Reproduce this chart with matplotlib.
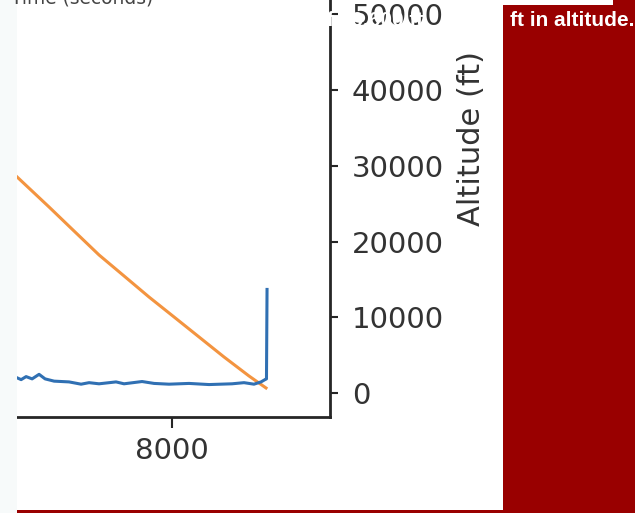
import matplotlib.pyplot as plt
from matplotlib.patches import Rectangle
from matplotlib.ticker import MultipleLocator

# flight trace, right part of the chart (time in s, altitude in ft)
blue_time = [6200, 6340, 6394, 6447, 6511, 6585, 6649, 6745, 6904, 7032, 7117, 7223, 7404,
             7489, 7681, 7809, 7968, 8181, 8394, 8638, 8766, 8872, 8947, 8989, 9005, 9011]
blue_alt = [1900, 2100, 1800, 2200, 1900, 2500, 1900, 1600, 1500, 1200, 1400, 1250, 1500,
            1250, 1550, 1300, 1200, 1300, 1150, 1250, 1400, 1200, 1500, 1800, 1900, 13700]

orange_time = [6000, 6351, 6691, 6957, 7223, 7489, 7755, 8021, 8287, 8553, 8819, 9000]
orange_alt = [32600, 28540, 24580, 21410, 18250, 15480, 12700, 10070, 7430, 4790, 2280, 700]

x_ticks = [8000]
y_label = "Altitude (ft)"
x_label_above = "Time (seconds)"

W, H = 635, 513
RED = "#990000"


def px_box(x0, y0, x1, y1):
    """pixel box (top-left origin) -> figure fraction [l, b, w, h]"""
    return [x0 / W, 1 - y1 / H, (x1 - x0) / W, (y1 - y0) / H]


fig = plt.figure(figsize=(W / 100, H / 100), dpi=100)
fig.patch.set_facecolor("white")

ax = fig.add_axes(px_box(-622, -141, 330, 417))
ax.patch.set_alpha(0)
ax.plot(blue_time, blue_alt, color="#3070b3", linewidth=2.2, zorder=3)
ax.plot(orange_time, orange_alt, color="#f39440", linewidth=2.2, zorder=2)

ax.set_xlim(-450, 9681)
ax.set_ylim(-3130, 70490)
ax.set_xticks(x_ticks)
ax.yaxis.set_major_locator(MultipleLocator(10000))
ax.yaxis.tick_right()
ax.yaxis.set_label_position("right")
ax.set_ylabel(y_label, fontsize=22, color="#333333")
ax.yaxis.set_label_coords(1.1335, 0.5)

for side in ["left", "top"]:
    ax.spines[side].set_visible(False)
for side in ["right", "bottom"]:
    ax.spines[side].set_linewidth(2.0)
    ax.spines[side].set_color("#262626")
ax.tick_params(axis="x", length=8, width=1.5, pad=6.5, labelsize=21,
               colors="#262626", labelcolor="#333333")
ax.tick_params(axis="y", length=5.8, width=1.5, pad=10, labelsize=21,
               colors="#262626", labelcolor="#333333")

# slide pieces around the cropped chart
fig.add_artist(Rectangle((0, 0), 17 / W, 1, transform=fig.transFigure,
                         facecolor="#f7fafa", edgecolor="none", zorder=4))
fig.add_artist(Rectangle((503 / W, 0), 132 / W, 1, transform=fig.transFigure,
                         facecolor=RED, edgecolor="none", zorder=4))
fig.add_artist(Rectangle((503 / W, 1 - 5 / H), 110 / W, 5 / H, transform=fig.transFigure,
                         facecolor="white", edgecolor="none", zorder=4))
fig.add_artist(Rectangle((17 / W, 0), 486 / W, 3 / H, transform=fig.transFigure,
                         facecolor=RED, edgecolor="none", zorder=4))

fig.text(11 / W, 1 - 4 / H, x_label_above, fontsize=13.4, color="#444444",
         va="baseline", ha="left", zorder=5)
fig.text(314 / W, 1 - 26 / H, "of 36,600 ft,", fontsize=15, fontweight="bold",
         family="Liberation Sans", color="white", va="baseline", ha="left", zorder=5)
fig.text(510 / W, 1 - 26 / H, "ft in altitude.", fontsize=15, fontweight="bold",
         family="Liberation Sans", color="white", va="baseline", ha="left", zorder=5)

fig.savefig("out.png", dpi=100)
